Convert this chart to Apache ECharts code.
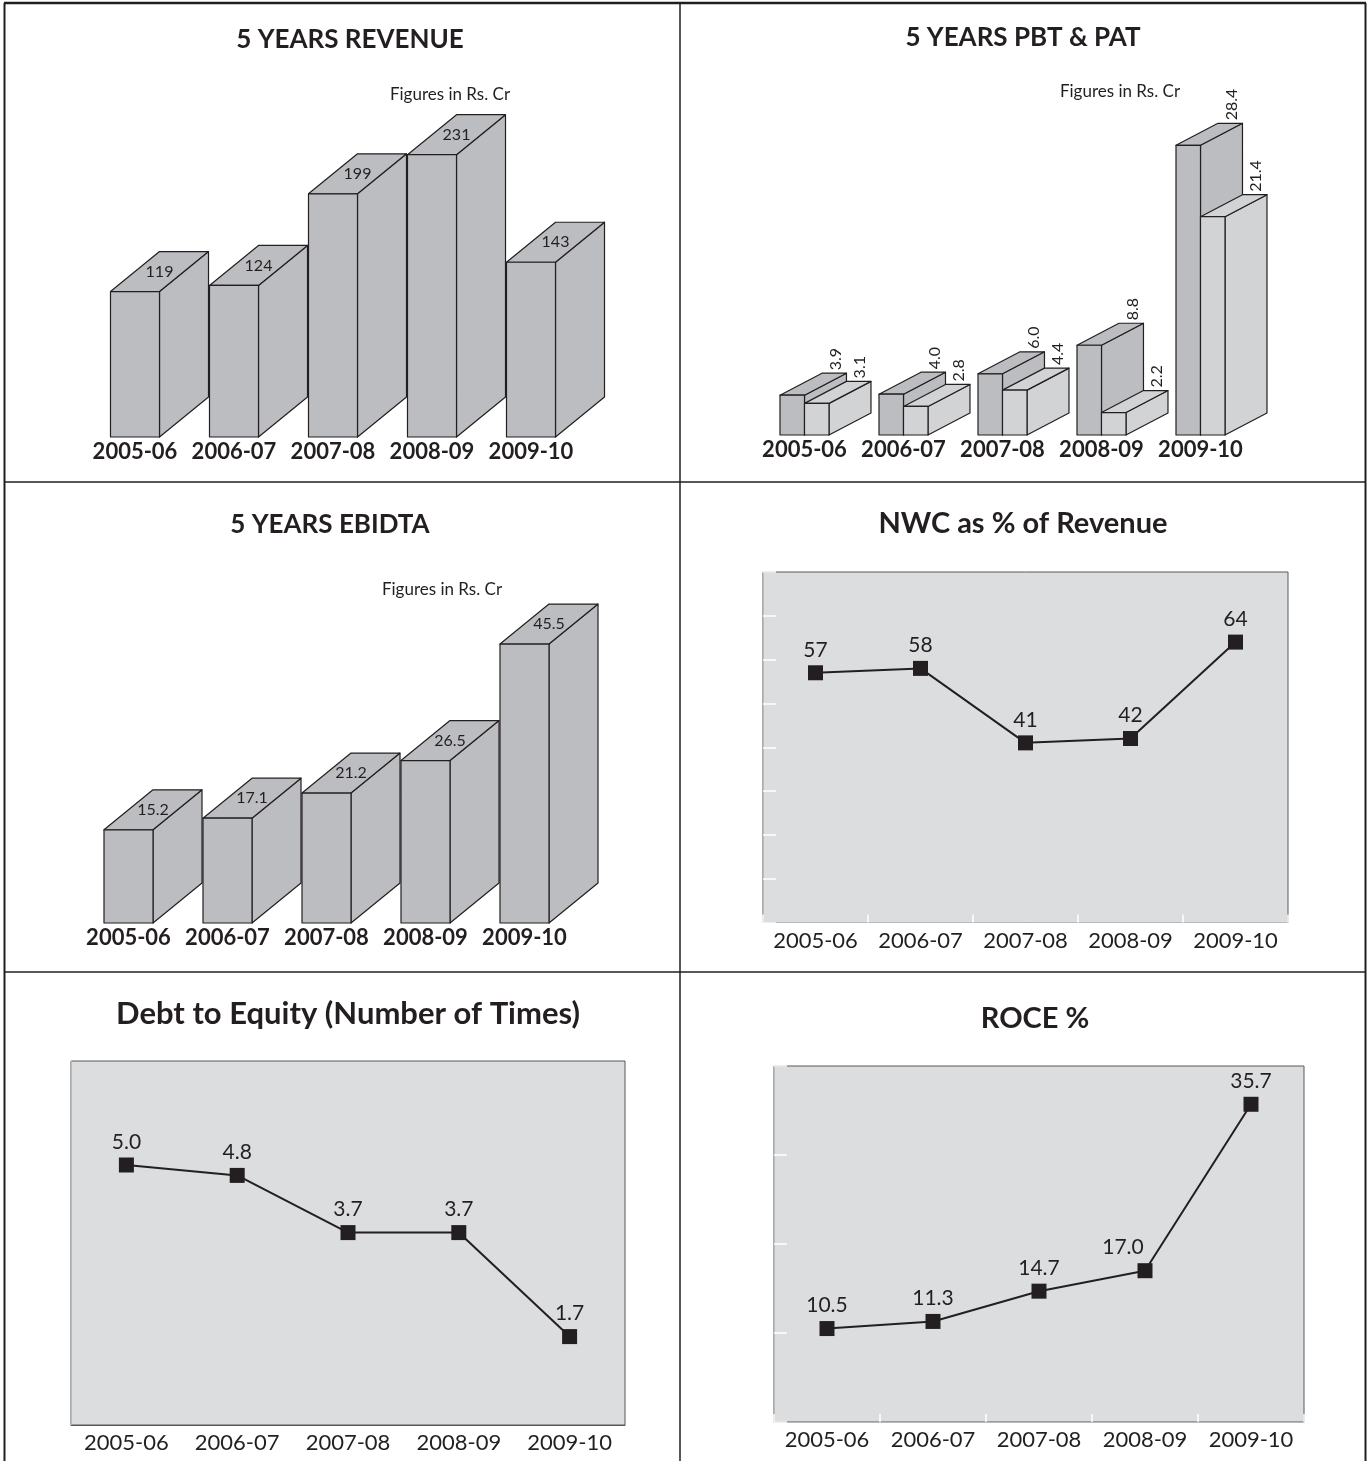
<!DOCTYPE html>
<html>
<head>
<meta charset="utf-8">
<title>5 Years Financials</title>
<script src="https://cdn.jsdelivr.net/npm/echarts@6/dist/echarts.min.js"></script>
<style>
  html, body { margin: 0; padding: 0; background: #fff; }
  #main { width: 1370px; height: 1461px; }
</style>
</head>
<body>
<div id="main"></div>
<script>
// data
var years = ['2005-06', '2006-07', '2007-08', '2008-09', '2009-10'];
var revenue = [119, 124, 199, 231, 143];
var pbt = [3.9, 4.0, 6.0, 8.8, 28.4];
var pat = [3.1, 2.8, 4.4, 2.2, 21.4];
var ebidta = [15.2, 17.1, 21.2, 26.5, 45.5];
var nwc = [57, 58, 41, 42, 64];
var debtEquity = [5.0, 4.8, 3.7, 3.7, 1.7];
var roce = [10.5, 11.3, 14.7, 17.0, 35.7];

var FONT = 'Lato';
var INK = '#231f20';

// pseudo 3d box drawn from the axis coords
function box3d(opt) {
  return function (params, api) {
    var idx = api.value(0), val = api.value(1);
    var top = api.coord([idx, val]);
    var base = api.coord([idx, 0]);
    var band = api.size([1, 0])[0];
    var x0 = top[0] + opt.offset * band;
    var x1 = x0 + opt.width * band;
    var yt = top[1], yb = base[1];
    var dx = opt.depth * band, dy = opt.rise;
    var st = function () {
      return { fill: opt.color, stroke: INK, lineWidth: 1.2, lineJoin: 'round' };
    };
    var kids = [
      { type: 'polygon', shape: { points: [[x1, yt], [x1 + dx, yt + dy], [x1 + dx, yb + dy], [x1, yb]] }, style: st() },
      { type: 'polygon', shape: { points: [[x0, yt], [x0 + dx, yt + dy], [x1 + dx, yt + dy], [x1, yt]] }, style: st() },
      { type: 'rect', shape: { x: x0, y: yt, width: x1 - x0, height: yb - yt }, style: st() }
    ];
    var txt = opt.fmt(val);
    if (opt.rotated) {
      kids.push({
        type: 'text', x: x1 + dx - 11, y: yt + dy - 3, rotation: Math.PI / 2,
        style: { text: txt, fill: INK, font: '16px ' + FONT, textAlign: 'left', textVerticalAlign: 'middle' }
      });
    } else {
      kids.push({
        type: 'text', x: (x0 + x1) / 2 + dx / 2, y: yt + dy / 2,
        style: { text: txt, fill: INK, font: '16px ' + FONT, textAlign: 'center', textVerticalAlign: 'middle' }
      });
    }
    return { type: 'group', children: kids };
  };
}

function pairs(arr) {
  return arr.map(function (v, i) { return [i, v]; });
}
function fix1(v) { return Number(v).toFixed(1); }
function int0(v) { return String(Math.round(v)); }

function barX(gi) {
  return {
    type: 'category', gridIndex: gi, data: years, boundaryGap: true,
    axisLine: { show: false }, axisTick: { show: false },
    axisLabel: { interval: 0, hideOverlap: false, fontFamily: FONT, fontWeight: 'bold', fontSize: 22, color: INK, margin: 4 }
  };
}
function hiddenY(gi, max) {
  return { type: 'value', gridIndex: gi, min: 0, max: max, show: false, splitLine: { show: false } };
}
function lineX(gi, ticks) {
  return {
    type: 'category', gridIndex: gi, data: years, boundaryGap: true,
    axisLine: { show: true, lineStyle: { color: ticks ? '#b9babc' : '#58595b', width: 1 } },
    axisTick: { show: ticks, interval: 0, inside: true, length: 8, lineStyle: { color: '#ffffff', width: 1.5 } },
    axisLabel: { interval: 0, hideOverlap: false, fontFamily: FONT, fontSize: 22, color: INK, margin: 7 }
  };
}
function lineY(gi, max, interval, ticks) {
  return {
    type: 'value', gridIndex: gi, min: 0, max: max, interval: interval,
    axisLine: { show: true, lineStyle: { color: '#b9babc', width: 1 } },
    axisTick: { show: ticks, inside: true, length: 13, lineStyle: { color: '#ffffff', width: 1.5 } },
    axisLabel: { show: false }, splitLine: { show: false }
  };
}
function lineSeries(gi, data, fmt, shifts) {
  shifts = shifts || {};
  return {
    type: 'line', xAxisIndex: gi, yAxisIndex: gi,
    data: data.map(function (v, i) {
      return shifts[i] ? { value: v, label: { offset: shifts[i] } } : v;
    }),
    symbol: 'rect', symbolSize: 15,
    itemStyle: { color: INK },
    lineStyle: { color: INK, width: 2 },
    label: { show: true, position: 'top', distance: 5, fontFamily: FONT, fontSize: 21, color: INK, formatter: function (p) { return fmt(p.value); } }
  };
}
function head(text, x, y, size, weight) {
  return {
    text: text, left: x, top: y, textAlign: 'center', padding: 0,
    textStyle: { fontFamily: FONT, fontWeight: weight || 'bold', fontSize: size, color: INK }
  };
}
function rule(x1, y1, x2, y2, w) {
  return { type: 'line', shape: { x1: x1, y1: y1, x2: x2, y2: y2 }, style: { stroke: INK, lineWidth: w }, z: 100 };
}

var plotBg = { show: true, backgroundColor: '#dcdddf', borderColor: '#58595b', borderWidth: 1 };

var chart = echarts.init(document.getElementById('main'));
chart.setOption({
  animation: false,
  backgroundColor: '#ffffff',
  title: [
    head('5 YEARS REVENUE', 350, 27, 26),
    head('Figures in Rs. Cr', 450, 86, 17, 'normal'),
    head('5 YEARS PBT & PAT', 1023, 25, 26),
    head('Figures in Rs. Cr', 1120, 83, 17, 'normal'),
    head('5 YEARS EBIDTA', 330, 512, 26),
    head('Figures in Rs. Cr', 442, 581, 17, 'normal'),
    head('NWC as % of Revenue', 1023, 509, 29),
    head('Debt to Equity (Number of Times)', 348, 998, 31),
    head('ROCE %', 1035, 1004, 29)
  ],
  grid: [
    { left: 85.5, top: 131.5, width: 495, height: 305.5 },
    { left: 755, top: 129, width: 495, height: 306 },
    { left: 79, top: 616.5, width: 495, height: 306.5 },
    Object.assign({ left: 763, top: 572, width: 525, height: 350.5 }, plotBg),
    Object.assign({ left: 71, top: 1061, width: 554, height: 364 }, plotBg),
    Object.assign({ left: 774, top: 1066, width: 530, height: 356 }, plotBg)
  ],
  xAxis: [barX(0), barX(1), barX(2), lineX(3, true), lineX(4, false), lineX(5, true)],
  yAxis: [
    hiddenY(0, 250), hiddenY(1, 30), hiddenY(2, 50),
    lineY(3, 80, 10, true), lineY(4, 7, 1, false), lineY(5, 40, 10, true)
  ],
  series: [
    { type: 'custom', xAxisIndex: 0, yAxisIndex: 0, clip: false, data: pairs(revenue),
      renderItem: box3d({ offset: -0.2475, width: 0.495, depth: 0.495, rise: -40, color: '#bcbdc0', fmt: int0 }) },
    { type: 'custom', xAxisIndex: 1, yAxisIndex: 1, clip: false, data: pairs(pbt),
      renderItem: box3d({ offset: -0.2475, width: 0.2475, depth: 0.424, rise: -22, color: '#bcbdc0', fmt: fix1, rotated: true }) },
    { type: 'custom', xAxisIndex: 1, yAxisIndex: 1, clip: false, data: pairs(pat),
      renderItem: box3d({ offset: 0, width: 0.2475, depth: 0.424, rise: -22, color: '#d1d3d4', fmt: fix1, rotated: true }) },
    { type: 'custom', xAxisIndex: 2, yAxisIndex: 2, clip: false, data: pairs(ebidta),
      renderItem: box3d({ offset: -0.2475, width: 0.495, depth: 0.495, rise: -40, color: '#bcbdc0', fmt: fix1 }) },
    lineSeries(3, nwc, int0),
    lineSeries(4, debtEquity, fix1),
    lineSeries(5, roce, fix1, { 3: [-22, 0] })
  ],
  graphic: [
    rule(4, 3, 1366, 3, 2.5),
    rule(4.5, 3, 4.5, 1461, 2),
    rule(1365.5, 3, 1365.5, 1461, 2),
    rule(680, 3, 680, 1461, 1.5),
    rule(4, 482, 1366, 482, 1.5),
    rule(4, 972, 1366, 972, 1.5)
  ]
});
</script>
</body>
</html>
